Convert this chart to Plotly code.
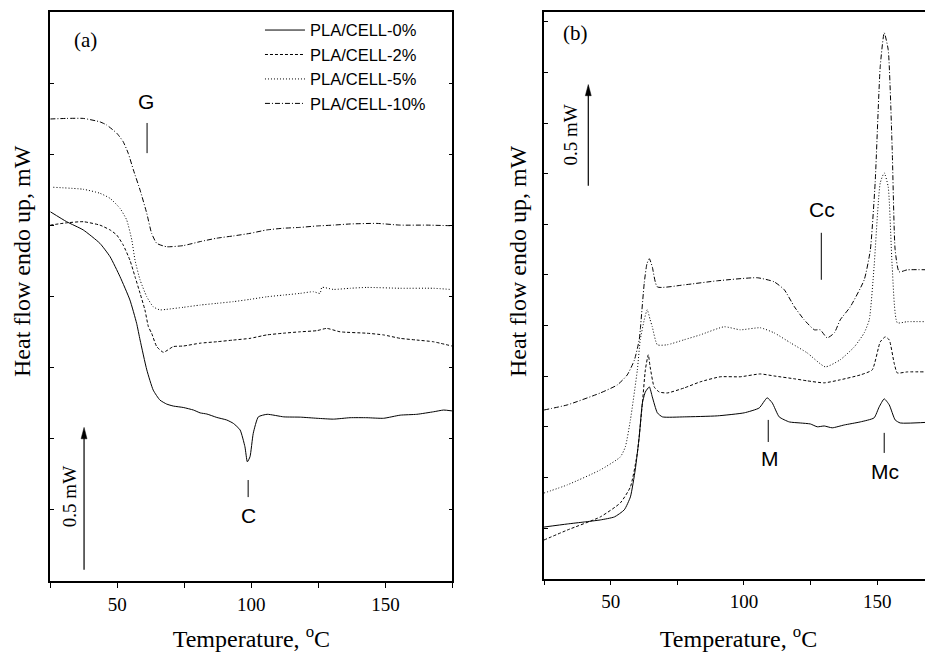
import plotly.graph_objects as go

# ---------------- data: panel (a) ----------------
series_names = ["PLA/CELL-0%", "PLA/CELL-2%", "PLA/CELL-5%", "PLA/CELL-10%"]

a_x_0 = [25, 31.1, 37.3, 43.5, 47.3, 51.0, 54.7, 57.2, 58.5, 61.0, 63.4, 65.9, 68.4, 70.9, 74.6, 78.4, 80.9, 83.4, 87.1, 90.8,
         93.3, 95.8, 97.6, 98.5, 99.5, 100.7, 102.6, 105.9, 112.1, 118.3, 124.5, 130.6, 136.8, 143.1, 149.3, 155.5, 161.7, 168.0, 171.7, 174.8]
a_y_0 = [1.298, 1.263, 1.234, 1.187, 1.140, 1.070, 0.988, 0.906, 0.847, 0.742, 0.671, 0.636, 0.622, 0.615, 0.610, 0.601, 0.591, 0.587, 0.575, 0.566,
         0.554, 0.531, 0.472, 0.419, 0.437, 0.519, 0.577, 0.586, 0.577, 0.576, 0.572, 0.569, 0.574, 0.574, 0.572, 0.583, 0.586, 0.595, 0.601, 0.598]

a_x_2 = [25, 31.1, 37.3, 43.5, 47.3, 49.8, 52.2, 54.7, 56.6, 58.5, 60.3, 61.6, 62.8, 64.7, 67.2, 70.9, 74.6, 80.9, 87.1, 93.3,
         99.5, 105.7, 111.9, 118.2, 124.4, 128.1, 133.1, 143.1, 149.3, 155.5, 161.7, 167.9, 174.8]
a_y_2 = [1.251, 1.259, 1.263, 1.251, 1.234, 1.216, 1.181, 1.128, 1.070, 1.011, 0.953, 0.894, 0.871, 0.824, 0.804, 0.824, 0.826, 0.836, 0.841, 0.847,
         0.853, 0.865, 0.871, 0.876, 0.880, 0.888, 0.876, 0.871, 0.865, 0.853, 0.847, 0.841, 0.826]

a_x_5 = [26.1, 37.3, 43.5, 47.3, 51.0, 53.5, 55.4, 56.6, 58.5, 61.0, 63.4, 65.9, 68.4, 74.6, 80.9, 87.1, 93.3, 99.5, 105.7, 111.9,
         118.2, 123.1, 125.6, 126.3, 130.6, 136.8, 143.1, 155.5, 167.9, 174.1]
a_y_5 = [1.384, 1.377, 1.363, 1.345, 1.310, 1.269, 1.199, 1.128, 1.058, 0.999, 0.964, 0.953, 0.955, 0.962, 0.970, 0.976, 0.982, 0.990, 0.999, 1.005,
         1.011, 1.017, 1.011, 1.032, 1.025, 1.029, 1.032, 1.029, 1.029, 1.025]

a_x_10 = [25, 31.1, 37.3, 43.5, 46.0, 49.8, 52.2, 54.1, 56.0, 58.5, 61.0, 62.8, 64.7, 68.4, 74.6, 80.9, 87.1, 93.3, 99.5, 105.7,
          111.9, 118.2, 124.4, 130.6, 136.8, 146.8, 155.5, 165.4, 174.1]
a_y_10 = [1.624, 1.626, 1.626, 1.614, 1.603, 1.574, 1.544, 1.503, 1.445, 1.374, 1.292, 1.222, 1.187, 1.175, 1.179, 1.193, 1.205, 1.213, 1.222, 1.234,
          1.240, 1.243, 1.248, 1.251, 1.255, 1.257, 1.251, 1.251, 1.249]

# ---------------- data: panel (b) ----------------
b_x_0 = [25, 33.7, 40.1, 46.1, 51.4, 55.1, 57.4, 59.2, 60.7, 61.9, 63.0, 64.5, 65.6, 67.5, 69.4, 77.6, 90.0, 100.1, 105.7, 108.7,
         110.6, 113.2, 117.0, 121.1, 124.9, 127.5, 130.1, 133.1, 137.6, 143.6, 148.8, 150.7, 152.6, 154.5, 156.7, 158.6, 171.3]
b_y_0 = [0.255, 0.270, 0.280, 0.290, 0.305, 0.340, 0.404, 0.537, 0.700, 0.868, 0.922, 0.947, 0.898, 0.819, 0.799, 0.799, 0.804, 0.819, 0.843, 0.893,
         0.868, 0.799, 0.774, 0.769, 0.764, 0.750, 0.754, 0.745, 0.759, 0.774, 0.794, 0.848, 0.888, 0.858, 0.784, 0.769, 0.774]

b_x_2 = [25, 33.7, 46.1, 53.6, 57.4, 60.0, 61.9, 63.0, 64.1, 64.8, 66.3, 68.2, 71.2, 77.6, 83.6, 91.1, 98.6, 106.1, 111.3, 118.9,
         123.7, 130.1, 136.1, 143.6, 148.1, 151.1, 153.0, 154.5, 156.3, 157.5, 161.2, 171.3]
b_y_2 = [0.191, 0.240, 0.305, 0.374, 0.453, 0.621, 0.868, 1.031, 1.106, 1.046, 0.947, 0.922, 0.917, 0.942, 0.972, 0.997, 0.997, 1.011, 1.001, 0.987,
         0.977, 0.967, 0.982, 1.006, 1.031, 1.169, 1.194, 1.179, 1.066, 1.016, 1.021, 1.021]

b_x_5 = [25, 33.7, 46.1, 53.6, 55.5, 57.4, 60.0, 61.1, 62.6, 63.7, 64.8, 65.6, 67.5, 71.2, 77.6, 83.6, 92.6, 98.6, 106.1, 111.3,
         117.4, 123.7, 130.5, 136.1, 141.4, 145.1, 147.0, 148.8, 151.1, 152.6, 154.1, 155.6, 157.5, 161.2, 171.3]
b_y_5 = [0.423, 0.463, 0.537, 0.601, 0.651, 0.784, 1.031, 1.180, 1.279, 1.328, 1.279, 1.244, 1.155, 1.155, 1.180, 1.204, 1.244, 1.229, 1.239, 1.214,
         1.165, 1.115, 1.046, 1.081, 1.145, 1.214, 1.279, 1.540, 1.954, 2.004, 1.935, 1.540, 1.264, 1.269, 1.269]

b_x_10 = [25, 33.7, 46.1, 52.5, 56.2, 58.9, 60.7, 61.1, 62.6, 63.6, 64.5, 65.6, 67.5, 77.6, 90.0, 105.0, 111.3, 115.1, 118.9, 122.6,
          126.4, 128.6, 131.2, 133.9, 136.1, 139.9, 145.1, 147.4, 149.2, 151.1, 152.6, 154.1, 155.6, 156.7, 158.2, 161.2, 171.3]
b_y_10 = [0.833, 0.858, 0.917, 0.957, 1.006, 1.080, 1.179, 1.229, 1.461, 1.555, 1.580, 1.540, 1.441, 1.451, 1.471, 1.486, 1.466, 1.427, 1.343, 1.278,
          1.229, 1.229, 1.189, 1.214, 1.278, 1.343, 1.476, 1.624, 1.955, 2.528, 2.696, 2.612, 2.118, 1.624, 1.515, 1.525, 1.525]

dashes = ["solid", "3px,2px", "1px,2px", "5px,2px,1px,2px"]

SERIF = "Liberation Serif, Times New Roman, serif"
SANS = "Liberation Sans, Arial, sans-serif"

fig = go.Figure()

a_sets = [(a_x_0, a_y_0), (a_x_2, a_y_2), (a_x_5, a_y_5), (a_x_10, a_y_10)]
b_sets = [(b_x_0, b_y_0), (b_x_2, b_y_2), (b_x_5, b_y_5), (b_x_10, b_y_10)]

for name, (xs, ys), dash in zip(series_names, a_sets, dashes):
    fig.add_trace(go.Scatter(x=xs, y=ys, mode="lines", name=name,
                             line=dict(color="black", width=1, dash=dash, shape="spline", smoothing=0.5),
                             xaxis="x", yaxis="y", showlegend=True))
for name, (xs, ys), dash in zip(series_names, b_sets, dashes):
    fig.add_trace(go.Scatter(x=xs, y=ys, mode="lines", name=name,
                             line=dict(color="black", width=1, dash=dash, shape="spline", smoothing=0.5),
                             xaxis="x2", yaxis="y2", showlegend=False))

xcommon = dict(ticks="outside", ticklen=5, tickwidth=1.2, tickcolor="black",
               showline=True, linecolor="black", linewidth=1.5, mirror=True,
               showgrid=False, zeroline=False, tick0=0, dtick=50,
               minor=dict(dtick=25, ticks="outside", ticklen=5, tickwidth=1.2, tickcolor="black", showgrid=False),
               tickfont=dict(family=SERIF, size=19, color="black"),
               title=dict(text="Temperature, <sup>o</sup>C", font=dict(family=SERIF, size=24, color="black"), standoff=19))
ycommon = dict(ticks="inside", ticklen=4, tickwidth=1.2, tickcolor="black",
               showline=True, linecolor="black", linewidth=1.5,
               showgrid=False, zeroline=False, showticklabels=False, tick0=0, dtick=0.25)

# plot area: 925 wide, 574 high (bottom margin holds tick labels and titles)
fig.update_layout(
    width=925, height=644,
    margin=dict(l=0, r=0, t=0, b=70),
    paper_bgcolor="white", plot_bgcolor="white",
    xaxis=dict(domain=[0.0457, 0.4805], range=[25, 175], anchor="y", **xcommon),
    yaxis=dict(domain=[0.0017, 0.9930], range=[0, 2.0], anchor="x", mirror="ticks", **ycommon),
    xaxis2=dict(domain=[0.5795, 1.0], range=[25, 170.9], anchor="y2", **xcommon),
    yaxis2=dict(domain=[0.0058, 0.9936], range=[0, 2.8], anchor="x2", mirror=False, **ycommon),
    legend=dict(x=0.2724, y=0.9916, xanchor="left", yanchor="top", bgcolor="rgba(0,0,0,0)",
                font=dict(family=SANS, size=16.5, color="black"), tracegroupgap=0, itemwidth=40),
    showlegend=True,
)

def txt(text, x, y, xref, yref, family, size, angle=0):
    fig.add_annotation(text=text, x=x, y=y, xref=xref, yref=yref, showarrow=False,
                       font=dict(family=family, size=size, color="black"), textangle=angle,
                       xanchor="center", yanchor="middle")

# panel labels
txt("(a)", 38.0, 1.90, "x", "y", SERIF, 21)
txt("(b)", 36.7, 2.696, "x2", "y2", SERIF, 21)
# y titles
txt("Heat flow endo up, mW", 0.0151, 0.5592, "paper", "paper", SERIF, 24, -90)
txt("Heat flow endo up, mW", 0.5514, 0.5592, "paper", "paper", SERIF, 24, -90)
# transition labels
txt("G", 60.8, 1.684, "x", "y", SANS, 21)
txt("C", 99.0, 0.232, "x", "y", SANS, 21)
txt("Cc", 129.4, 1.822, "x2", "y2", SANS, 21)
txt("M", 109.9, 0.591, "x2", "y2", SANS, 21)
txt("Mc", 153.0, 0.527, "x2", "y2", SANS, 21)
# scale bars (text + arrow drawn as shapes)
txt("0.5 mW", 32.0, 0.295, "x", "y", SERIF, 19, -90)
txt("0.5 mW", 35.0, 2.192, "x2", "y2", SERIF, 19, -90)

def arrow(xr, yr, x, y0, y1, hw, hh):
    fig.add_shape(type="line", xref=xr, yref=yr, x0=x, x1=x, y0=y0, y1=y1 - hh * 0.5,
                  line=dict(color="black", width=1.2))
    fig.add_shape(type="path", xref=xr, yref=yr,
                  path=f"M {x - hw},{y1 - hh} L {x},{y1} L {x + hw},{y1 - hh} Z",
                  fillcolor="black", line=dict(color="black", width=0.5))

arrow("x", "y", 37.6, 0.04, 0.54, 1.1, 0.04)
arrow("x2", "y2", 41.6, 1.94, 2.44, 1.1, 0.055)

# marker ticks
for xr, yr, x0, y0, y1 in [("x", "y", 61.1, 1.504, 1.610), ("x", "y", 98.8, 0.295, 0.355),
                           ("x2", "y2", 129.0, 1.476, 1.708), ("x2", "y2", 109.1, 0.675, 0.784),
                           ("x2", "y2", 152.6, 0.621, 0.720)]:
    fig.add_shape(type="line", xref=xr, yref=yr, x0=x0, x1=x0, y0=y0, y1=y1,
                  line=dict(color="black", width=1))

fig.write_html("out.html")
